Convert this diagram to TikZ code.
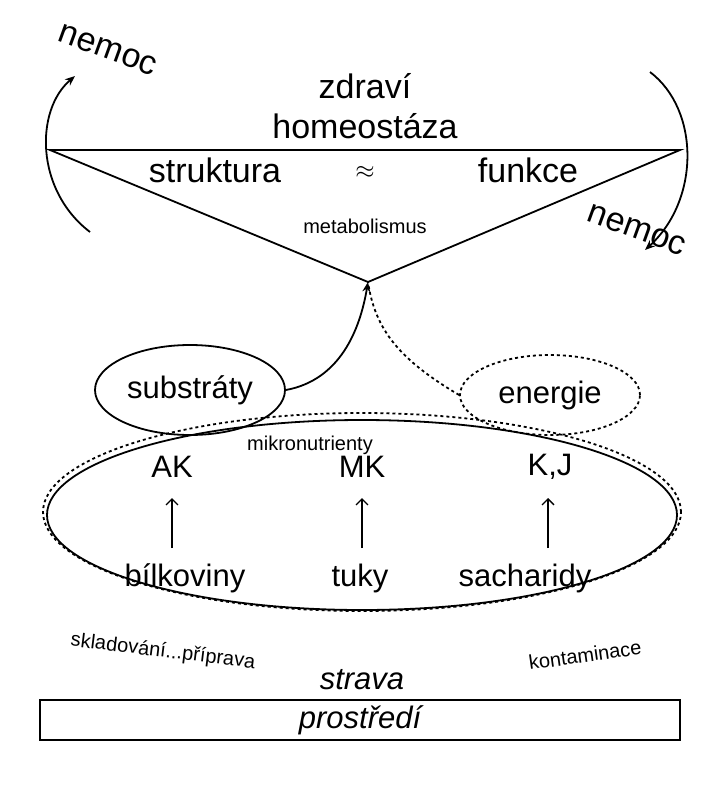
\documentclass[tikz,border=0pt]{standalone}
\usepackage{fontspec}
\setmainfont{Liberation Sans}
\usetikzlibrary{arrows.meta,shapes.geometric}
\tikzset{
  big/.style={font=\fontsize{34}{38}\selectfont},
  mid/.style={font=\fontsize{31}{35}\selectfont},
  small/.style={font=\fontsize{20}{23}\selectfont},
  tip/.style={-{Stealth[length=10pt,width=8pt]}},
}
\begin{document}
\begin{tikzpicture}[x=1pt,y=-1pt,line width=1.8pt]
  \useasboundingbox (0,0) rectangle (720,800);
  % triangle
  \coordinate (L) at (50,150);
  \coordinate (R) at (680,150);
  \coordinate (apex) at (368,282);
  \draw (L) -- (R) -- (apex) -- cycle;
  \node[big] (zdr) at (365,86) {zdraví};
  \node[big] (hom) at (365,126) {homeostáza};
  \node[big] (str) at (215,170) {struktura};
  \node[big] (apr) at (365,172) {$\approx$};
  \node[big] (fun) at (528,170) {funkce};
  \node[small] (met) at (365,226) {metabolismus};
  % nemoc arrows
  \coordinate (la) at (90,232);
  \coordinate (lb) at (75,76);
  \coordinate (ra) at (650,72);
  \coordinate (rb) at (645,250);
  \draw[tip] (la) .. controls (35,190) and (35,110) .. (lb);
  \draw[tip] (ra) .. controls (700,110) and (700,200) .. (rb);
  \node[big,rotate=-20] (nl) at (108,50) {nemoc};
  \node[big,rotate=-20] (nr) at (637,230) {nemoc};
  % substrates and energy
  \node[mid,draw,ellipse,minimum width=190pt,minimum height=90pt,inner sep=0pt] (sub) at (190,390) {substráty};
  \node[mid,draw,dashed,ellipse,minimum width=180pt,minimum height=80pt,inner sep=0pt] (ene) at (550,395) {energie};
  \draw[tip] (sub.east) .. controls (340,380) and (360,330) .. (apex);
  \draw[dashed] (ene.west) .. controls (400,360) and (375,330) .. (apex);
  % food
  \node[draw,ellipse,minimum width=630pt,minimum height=190pt] (food) at (362,515) {};
  \node[draw,dashed,ellipse,minimum width=638pt,minimum height=198pt] (micro) at (362,512) {};
  \node[small] (mik) at (310,445) {mikronutrienty};
  \node[mid] (ak) at (172,467) {AK};
  \node[mid] (mk) at (362,467) {MK};
  \node[mid] (kj) at (550,467) {K,J};
  \node[mid] (bil) at (185,578) {bílkoviny};
  \node[mid] (tuk) at (360,578) {tuky};
  \node[mid] (sac) at (525,578) {sacharidy};
  \foreach \x in {172,362,548}
    \draw[-{Straight Barb[length=6pt]},line width=1.3pt] (\x,548) -- (\x,498);
  % environment
  \node[small,rotate=-7] (skl) at (163,652) {skladování...příprava};
  \node[small,rotate=8] (kon) at (585,655) {kontaminace};
  \node[font=\fontsize{31}{35}\selectfont\itshape] (strava) at (362,680) {strava};
  \node[draw,minimum width=640pt,minimum height=40pt,inner sep=0pt,font=\fontsize{31}{35}\selectfont\itshape] (pro) at (360,720) {prostředí};
\end{tikzpicture}
\end{document}
